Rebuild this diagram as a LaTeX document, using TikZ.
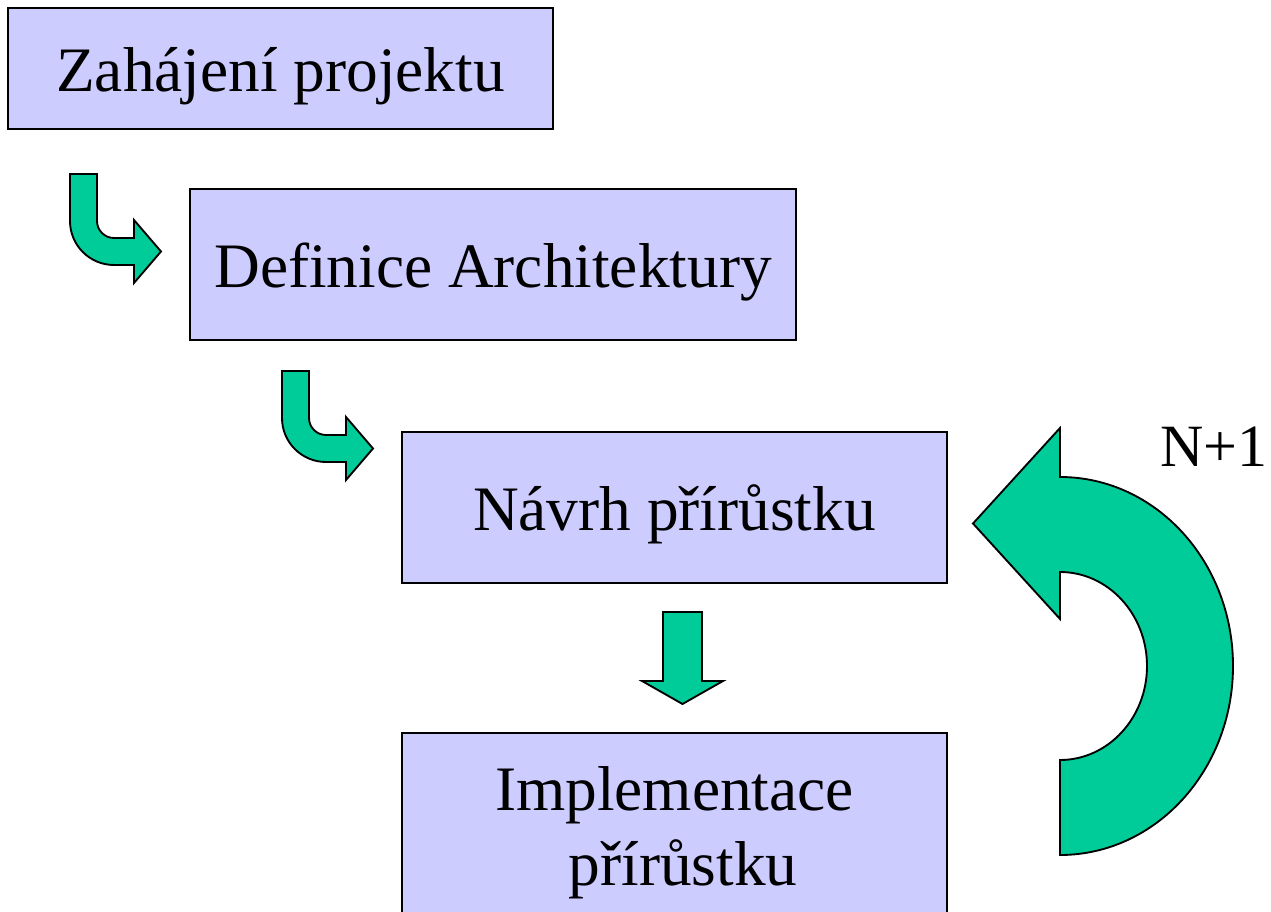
\documentclass[tikz,border=0pt]{standalone}
\usepackage{fontspec}
\setmainfont{Liberation Serif}
\usetikzlibrary{math}

\definecolor{boxblue}{RGB}{204,204,255}
\definecolor{arrowgreen}{RGB}{0,204,153}

\begin{document}
\begin{tikzpicture}[x=0.75pt, y=-0.75pt]
\tikzstyle{phase}=[rectangle, draw=black, line width=1.5pt, fill=boxblue, inner sep=0pt, align=center, font=\fontsize{47.5}{56}\selectfont]
\tikzstyle{one line}=[text height=47pt, text depth=11.75pt]
\tikzstyle{block arrow}=[draw=black, line width=1.4pt, fill=arrowgreen, line join=miter]

\useasboundingbox (0,0) rectangle (1271,912);
\clip (0,0) rectangle (1271,912);

% Draw the phase boxes
\tikzmath{
    \boxw = 545 * 0.75;
    \widew = 606 * 0.75;
    \lowh = 121 * 0.75;
    \highh = 151 * 0.75;
}

\node[phase, one line, minimum width=\boxw pt, minimum height=\lowh pt] (Zahajeni) at (280.5, 68.5) {Zahájení projektu};
\node[phase, one line, minimum width=\widew pt, minimum height=\highh pt] (Definice) at (493, 264.5) {Definice Architektury};
\node[phase, one line, minimum width=\boxw pt, minimum height=\highh pt] (Navrh) at (674.5, 507.5) {Návrh přírůstku};
\node[phase, minimum width=\boxw pt, minimum height=150pt] (Implementace) at (674.5, 833) {Implementace\\\kern13pt přírůstku};

% Draw the bent arrows between the first phases
\foreach \ax/\ay in {70/174, 282/371}
    \draw[block arrow, shift={(\ax,\ay)}] (0,0) -- (27,0) -- (27,47)
        arc[start angle=180, end angle=90, radius=17] -- (64,64) -- (64,46)
        -- (91,77.5) -- (64,109) -- (64,91) -- (44,91)
        arc[start angle=90, end angle=180, radius=44] -- cycle;

% Draw the down arrow
\draw[block arrow] (663,612) -- (702,612) -- (702,681) -- (723,681)
    -- (682.5,704) -- (642,681) -- (663,681) -- cycle;

% Draw the loop arrow back to the design phase
\draw[block arrow] (1060,477) arc[start angle=270, end angle=450, x radius=173, y radius=189]
    -- (1060,760) arc[start angle=90, end angle=-90, x radius=87, y radius=94]
    -- (1060,619) -- (973,523.5) -- (1060,428) -- cycle;

\node[anchor=base west, inner sep=0pt, font=\fontsize{45}{54}\selectfont] (Iterace) at (1160, 467) {N+1};

\end{tikzpicture}
\end{document}
